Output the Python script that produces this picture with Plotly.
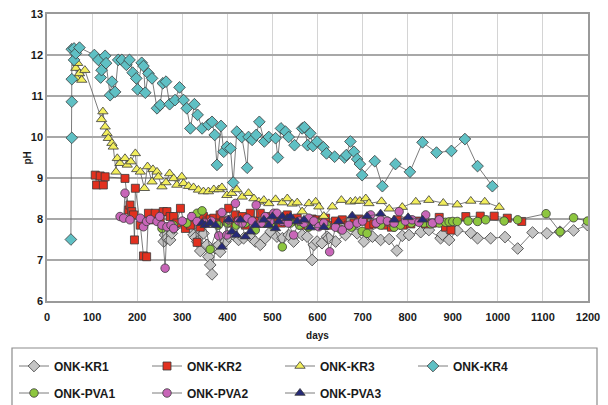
import plotly.graph_objects as go

# ---- data: pH versus time (days) for seven samples ----
kr1_days = [259, 262, 266, 273, 277, 281, 318, 325, 329, 333, 340, 347, 355, 358, 362, 366, 373, 381, 384, 396,
            403, 414, 425, 436, 451, 462, 473, 484, 496, 510, 522, 536, 547, 566, 577, 588, 592, 599, 610, 621,
            625, 640, 662, 688, 703, 722, 740, 759, 776, 788, 803, 829, 847, 873, 877, 892, 910, 940, 955, 984,
            1016, 1044, 1077, 1109, 1138, 1168, 1199]
kr1_ph = [7.45, 7.61, 7.53, 7.49, 7.65, 7.77, 7.79, 7.61, 7.55, 7.45, 7.22, 7.65, 7.37, 7.08, 6.88, 6.65, 7.29, 7.37,
          7.20, 7.45, 7.57, 7.61, 7.49, 7.53, 7.57, 7.45, 7.37, 7.53, 7.69, 7.57, 7.53, 7.61, 7.45, 7.61, 7.57, 7.00,
          7.37, 7.45, 7.41, 7.57, 7.53, 7.45, 7.61, 7.65, 7.45, 7.57, 7.49, 7.51, 7.23, 7.59, 7.61, 7.68, 7.73, 7.53,
          7.62, 7.49, 7.72, 7.66, 7.53, 7.53, 7.56, 7.28, 7.67, 7.65, 7.69, 7.72, 7.85]

kr2_days = [107, 110, 118, 125, 129, 173, 181, 184, 188, 192, 194, 196, 207, 214, 221, 225, 236, 240, 251, 258,
            266, 273, 281, 288, 296, 307, 318, 325, 333, 340, 347, 355, 362, 370, 377, 384, 392, 403, 410, 418,
            425, 433, 440, 451, 460, 473, 482, 492, 500, 510, 520, 533, 544, 555, 566, 577, 588, 599, 610, 618,
            625, 640, 655, 668, 681, 692, 703, 714, 725, 738, 751, 764, 777, 790, 807, 822, 840, 855, 870, 884,
            896, 929, 961, 992, 1021, 1053]
kr2_ph = [9.07, 8.83, 9.05, 8.83, 9.03, 8.99, 8.22, 8.34, 8.18, 8.10, 7.49, 8.75, 7.85, 7.10, 7.08, 8.14, 7.98, 8.14,
          7.98, 8.18, 8.18, 8.06, 8.06, 7.90, 8.26, 7.77, 7.85, 8.06, 7.43, 7.80, 8.06, 7.95, 8.00, 8.02, 7.90, 8.10,
          7.95, 8.26, 7.90, 8.10, 7.95, 8.06, 7.85, 8.14, 7.95, 8.14, 7.90, 8.06, 7.95, 8.02, 7.90, 8.10, 7.95, 8.02,
          7.85, 7.94, 8.00, 7.98, 7.95, 8.02, 7.85, 7.95, 7.98, 7.85, 7.90, 8.00, 7.95, 7.85, 7.88, 7.90, 7.85, 7.80,
          7.98, 7.85, 7.88, 7.95, 7.88, 7.90, 8.04, 7.80, 7.73, 8.06, 8.07, 8.07, 8.02, 7.94]

kr3_days = [64, 66, 68, 72, 77, 84, 121, 124, 129, 133, 136, 144, 147, 153, 156, 162, 173, 178, 186, 196,
            199, 207, 216, 223, 233, 235, 244, 247, 255, 264, 272, 281, 288, 299, 303, 314, 325, 336, 347, 358,
            370, 381, 388, 399, 410, 421, 433, 447, 459, 470, 481, 492, 507, 522, 533, 544, 555, 566, 581, 596,
            603, 614, 633, 653, 673, 684, 694, 707, 714, 742, 759, 788, 818, 847, 879, 910, 940, 971, 1003]
kr3_ph = [11.68, 11.43, 11.80, 11.55, 11.39, 11.63, 10.43, 10.62, 10.25, 10.09, 9.97, 9.85, 9.76, 9.15, 9.48, 9.36,
          9.48, 9.32, 9.40, 9.60, 9.21, 9.15, 8.75, 9.28, 8.91, 9.21, 9.15, 9.03, 8.79, 8.89, 9.11, 8.99, 8.83, 9.03,
          8.87, 8.80, 8.77, 8.71, 8.67, 8.67, 8.72, 8.72, 8.77, 8.58, 8.63, 8.72, 8.54, 8.63, 8.50, 8.42, 8.46, 8.38,
          8.48, 8.40, 8.50, 8.37, 8.40, 8.18, 8.38, 8.42, 8.30, 8.07, 8.30, 8.46, 8.42, 8.44, 8.44, 8.50, 8.38, 8.43,
          8.25, 8.29, 8.42, 8.46, 8.39, 8.35, 8.44, 8.42, 8.29]

kr4_days = [53, 55, 55, 55, 55, 60, 60, 64, 72, 105, 114, 119, 121, 129, 131, 140, 144, 151, 158, 166,
            176, 183, 190, 198, 201, 210, 214, 218, 225, 233, 244, 251, 257, 264, 272, 284, 294, 303, 310, 318,
            327, 334, 344, 358, 366, 372, 377, 386, 392, 399, 407, 413, 421, 432, 444, 447, 455, 464, 471, 482,
            492, 507, 512, 519, 529, 536, 549, 566, 571, 578, 584, 590, 599, 613, 620, 638, 660, 664, 673, 681,
            688, 694, 699, 727, 744, 773, 805, 833, 864, 897, 927, 955, 988]
kr4_ph = [7.50, 9.98, 10.86, 11.41, 12.14, 11.88, 12.16, 12.04, 12.18, 12.00, 11.88, 11.45, 11.63, 11.98, 11.80,
          11.02, 11.35, 11.10, 11.88, 11.88, 11.76, 11.88, 11.57, 11.43, 11.16, 11.81, 11.73, 11.08, 11.55, 11.43,
          10.70, 10.78, 11.31, 11.35, 10.80, 10.90, 11.21, 10.90, 10.70, 10.21, 10.80, 10.54, 10.21, 10.30, 10.37,
          10.05, 9.32, 10.27, 9.64, 9.76, 9.72, 8.89, 10.13, 10.00, 9.25, 10.00, 9.93, 10.05, 10.37, 9.89,
          10.00, 9.97, 9.50, 10.21, 10.13, 10.00, 9.80, 10.21, 10.24, 9.80, 10.09, 9.78, 9.89, 9.75, 9.60,
          9.52, 9.50, 9.56, 9.89, 9.64, 9.46, 9.34, 9.07, 9.41, 8.80, 9.34, 9.15, 9.87, 9.62, 9.66, 9.95, 9.29, 8.80]

pva1_days = [255, 280, 310, 333, 344, 362, 380, 400, 420, 440, 462, 480, 500, 522, 540, 560, 580, 600, 620, 651,
             675, 699, 710, 740, 770, 784, 808, 836, 851, 870, 884, 892, 900, 910, 934, 955, 973, 1014, 1044, 1107,
             1138, 1168, 1199]
pva1_ph = [7.77, 7.85, 7.90, 8.14, 8.20, 7.26, 7.85, 7.90, 7.85, 7.90, 7.73, 7.90, 7.85, 7.32, 7.90, 7.85, 7.80, 7.90,
           7.85, 7.75, 7.80, 7.70, 7.65, 7.85, 7.80, 7.85, 7.90, 7.90, 7.88, 7.90, 7.92, 7.93, 7.94, 7.94, 7.95, 7.94,
           7.98, 7.95, 7.98, 8.13, 7.69, 8.03, 7.95]

pva2_days = [162, 170, 173, 184, 207, 214, 221, 229, 244, 250, 255, 262, 266, 275, 281, 300, 321, 333, 350, 365,
             381, 388, 399, 403, 418, 425, 433, 444, 455, 464, 475, 484, 495, 503, 510, 522, 535, 547, 560, 570,
             581, 592, 603, 614, 627, 640, 655, 670, 688, 700, 718, 730, 740, 755, 770, 781, 795, 810, 825, 840,
             855, 870]
pva2_ph = [8.06, 8.02, 8.63, 7.98, 8.02, 7.81, 7.94, 7.99, 7.94, 8.06, 7.85, 6.80, 7.81, 7.85, 7.77, 7.95, 8.06, 7.94,
           7.90, 7.95, 7.59, 8.16, 7.61, 7.98, 8.38, 7.95, 7.90, 8.02, 7.95, 8.34, 7.90, 8.06, 7.95, 8.14, 8.14, 7.94,
           7.90, 7.61, 7.95, 7.90, 8.02, 7.95, 7.81, 7.90, 7.20, 7.80, 7.73, 7.85, 7.90, 7.95, 8.10, 7.90, 7.98, 7.95,
           7.90, 8.18, 7.95, 7.98, 7.92, 8.10, 7.90, 7.98]

pva3_days = [344, 351, 362, 374, 388, 403, 410, 420, 429, 440, 451, 462, 481, 492, 500, 507, 514, 522, 533, 540,
             555, 570, 584, 614, 647, 677, 710, 740, 770, 801, 833]
pva3_ph = [7.90, 7.85, 7.90, 7.85, 7.32, 7.98, 7.69, 7.61, 7.98, 7.57, 7.69, 7.85, 7.98, 7.85, 8.06, 7.77, 7.94, 8.06,
           8.02, 8.06, 7.94, 7.98, 7.79, 7.80, 7.94, 8.08, 8.07, 8.13, 7.98, 8.04, 7.98]

x_ticks = list(range(0, 1201, 100))
y_ticks = list(range(6, 14))

series = [
    ("ONK-KR1", kr1_days, kr1_ph, "diamond", "#C4C4C4", 9, "legend"),
    ("ONK-KR2", kr2_days, kr2_ph, "square", "#E2301F", 8, "legend"),
    ("ONK-KR3", kr3_days, kr3_ph, "triangle-up", "#F2EE5C", 9, "legend"),
    ("ONK-KR4", kr4_days, kr4_ph, "diamond", "#5FC0C4", 9, "legend"),
    ("ONK-PVA1", pva1_days, pva1_ph, "circle", "#8DC63F", 8.5, "legend2"),
    ("ONK-PVA2", pva2_days, pva2_ph, "circle", "#C866B8", 8.5, "legend2"),
    ("ONK-PVA3", pva3_days, pva3_ph, "triangle-up", "#262A78", 9, "legend2"),
]

fig = go.Figure()
for name, xs, ys, sym, col, size, leg in series:
    fig.add_trace(go.Scatter(
        x=xs, y=ys, name=name, mode="lines+markers", legend=leg,
        line=dict(color="#5a5a5a", width=0.8),
        marker=dict(symbol=sym, color=col, size=size,
                    line=dict(color="#3a3a3a", width=0.8)),
    ))

font_b = dict(family="Liberation Sans, Arial, sans-serif", size=11, color="#1a1a1a", weight="bold")
legend_font = dict(family="Liberation Sans, Arial, sans-serif", size=12, color="#1a1a1a", weight="bold")

W, H = 608, 405
L, R, T, B = 47, 20, 14, 104
pw, ph_ = W - L - R, H - T - B


def px_x(px):
    return (px - L) / pw


def px_y(py):
    return (H - B - py) / ph_


legend_common = dict(orientation="h", font=legend_font, bgcolor="rgba(0,0,0,0)",
                     entrywidth=88, entrywidthmode="pixels", xanchor="left", yanchor="middle",
                     itemclick=False, itemdoubleclick=False)

fig.update_layout(
    width=W, height=H,
    margin=dict(l=L, r=R, t=T, b=B, autoexpand=False),
    paper_bgcolor="white", plot_bgcolor="white",
    font=font_b,
    xaxis=dict(range=[0, 1200], tickvals=x_ticks, showgrid=True, gridcolor="#d4d4d4", gridwidth=1,
               zeroline=False, showline=True, linecolor="#9a9a9a", linewidth=1.5, mirror=True,
               ticks="", tickfont=font_b, ticklabelstandoff=5,
               title=dict(text="days", font=dict(family="Liberation Sans, Arial, sans-serif", size=10,
                                                  color="#1a1a1a", weight="bold"), standoff=10)),
    yaxis=dict(range=[6, 13], tickvals=y_ticks, showgrid=True, gridcolor="#a8a8a8", gridwidth=1.5,
               zeroline=False, showline=True, linecolor="#9a9a9a", linewidth=1.5, mirror=True,
               ticks="", tickfont=font_b),
    legend=dict(x=px_x(14), y=px_y(366), **legend_common),
    legend2=dict(x=px_x(14), y=px_y(393), **legend_common),
    showlegend=True,
)

# pH label on the left
fig.add_annotation(text="pH", xref="paper", yref="paper", x=px_x(19), y=px_y(158), showarrow=False,
                   textangle=-90, font=dict(family="Liberation Sans, Arial, sans-serif", size=10,
                                            color="#1a1a1a", weight="bold"))

# frame around the legend area
fig.add_shape(type="rect", xref="paper", yref="paper",
              x0=px_x(12), x1=px_x(597), y0=px_y(348), y1=px_y(412),
              line=dict(color="#8c8c8c", width=1.2), fillcolor="rgba(0,0,0,0)", layer="below")

fig.write_html("out.html")
